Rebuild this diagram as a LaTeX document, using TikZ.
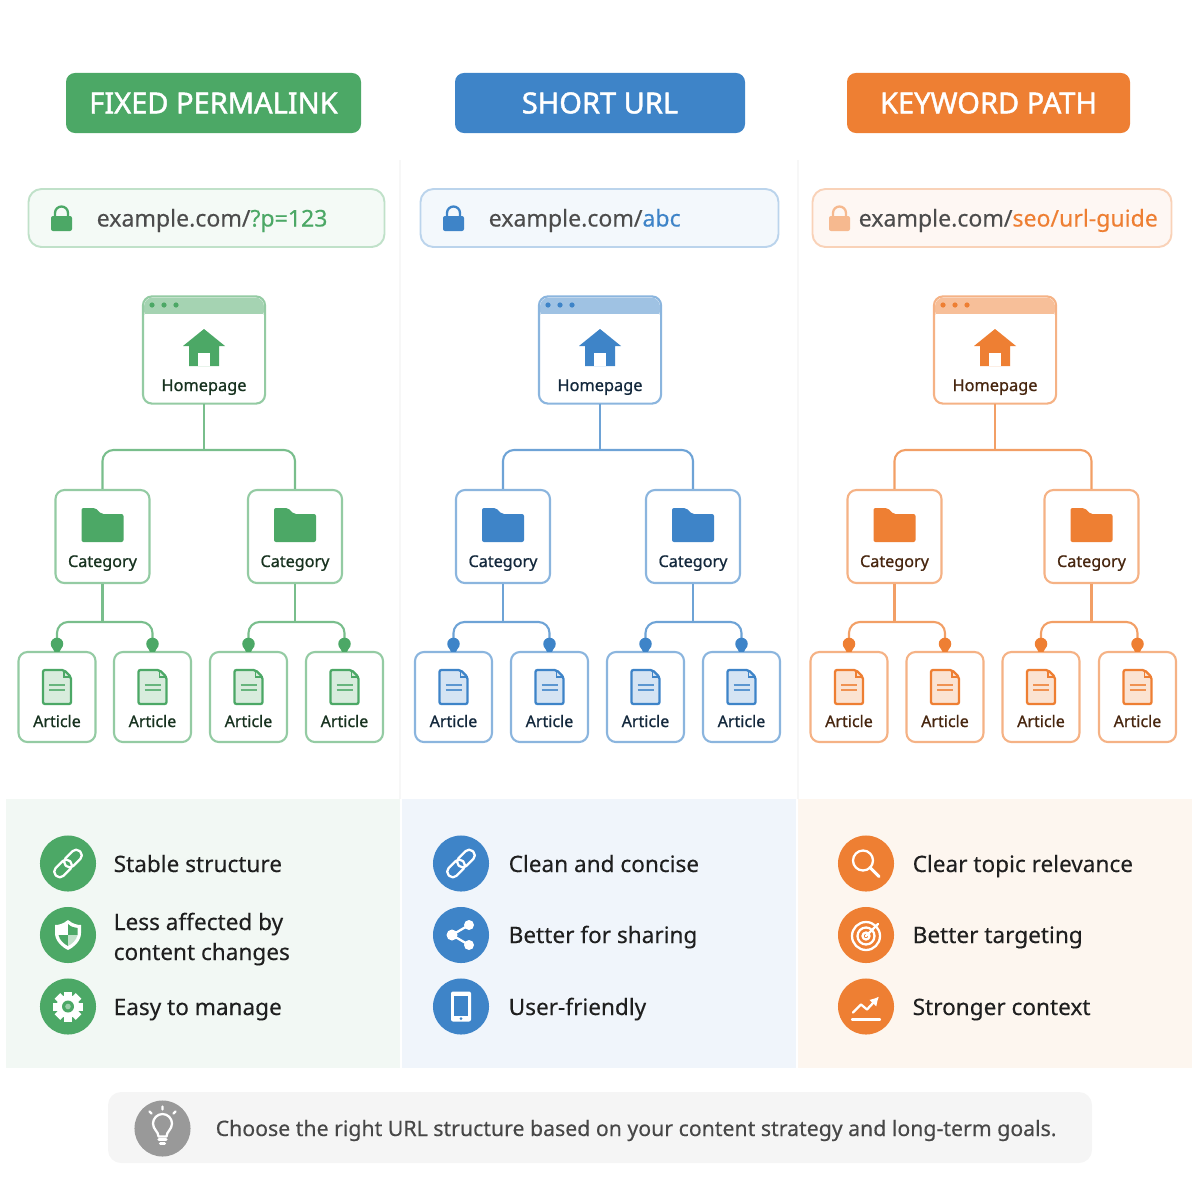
\documentclass[tikz,border=0pt]{standalone}
\usepackage{fontspec}
\setmainfont{Noto Sans}
\newfontfamily\heavyfont[FakeBold=1.5]{Noto Sans}
\newfontfamily\labelfont[FakeBold=0.9]{Noto Sans}
\newfontfamily\midfont[FakeBold=0.25]{Noto Sans}
\usetikzlibrary{positioning}
\usetikzlibrary{arrows.meta}
\definecolor{grn}{HTML}{4CA866}
\definecolor{blu}{HTML}{3E84C8}
\definecolor{org}{HTML}{EE7F33}
\definecolor{grnpale}{HTML}{F2F8F4}
\definecolor{blupale}{HTML}{F0F5FB}
\definecolor{orgpale}{HTML}{FDF6EF}
\tikzset{sizedbox/.style = {rectangle, inner sep = 0, minimum width = #1*0.01cm}}
\tikzset{headbox/.style = {sizedbox = #1, minimum height = 0.6cm, rounded corners = 0.09cm, fill = maincol, text = white, font = \fontsize{8.25}{9}\selectfont\heavyfont}}
\tikzset{urlbox/.style = {sizedbox = #1, minimum height = 0.58cm, rounded corners = 0.13cm, draw = maincol!35, fill = maincol!6, line width = 0.55pt}}
\tikzset{treebox/.style = {sizedbox = #1, draw = maincol!60, fill = white, rounded corners = 0.09cm, line width = 0.6pt}}
\tikzset{treeline/.style = {draw = maincol!75, line width = 0.6pt, rounded corners = 0.11cm}}
\tikzset{treedot/.style = {circle, fill = maincol, inner sep = 0, minimum size = 0.125cm}}
\tikzset{boxtext/.style = {anchor = base, text = maincol!30!black, inner sep = 0, font = \fontsize{#1}{9}\selectfont\labelfont}}
\tikzset{urltext/.style = {anchor = base west, inner sep = 0, font = \fontsize{6.56}{9}\selectfont\midfont}}
\tikzset{bullet/.style = {anchor = base west, inner sep = 0, text = black!88, font = \fontsize{6.42}{8.6}\selectfont\midfont}}
\tikzset{round/.style = {circle, fill = maincol, inner sep = 0, minimum size = 0.56cm}}
\tikzset{whiteline/.style = {draw = white, line width = 0.65pt, line cap = round, line join = round}}
% small pictures, drawn round (0,0)
\tikzset{lock/.pic = {
    \fill[maincol!#1, rounded corners = 0.02cm] (-10.5,-2) rectangle (10.5,13);
    \draw[maincol!#1, line width = 0.65pt] (-6.5,-2) -- (-6.5,-5) arc (180:360:6.5) -- (6.5,-2);
  }}
\tikzset{house/.pic = {
    \fill[maincol, line join = round] (0,-19) -- (21,-2) -- (15,-2) -- (15,18) -- (-15,18) -- (-15,-2) -- (-21,-2) -- cycle;
    \fill[white] (-6,5) rectangle (6,18);
  }}
\tikzset{folder/.pic = {
    \fill[maincol, rounded corners = 0.02cm] (-21,-17) -- (-7,-17) -- (-1,-11) -- (21,-11) -- (21,17) -- (-21,17) -- cycle;
  }}
\tikzset{page/.pic = {
    \draw[maincol, fill = maincol!22, line width = 0.65pt, rounded corners = 0.02cm] (-14,-17) -- (7,-17) -- (14,-10) -- (14,17) -- (-14,17) -- cycle;
    \draw[maincol, line width = 0.4pt] (7,-17) -- (7,-10) -- (14,-10);
    \draw[maincol!85, line width = 0.5pt] (-8,-2) -- (8,-2) (-8,3) -- (8,3);
  }}
\tikzset{dotfoot/.pic = {
    \fill[maincol] (-5,-4) -- (5,-4) -- (2.5,1) -- (-2.5,1) -- cycle;
  }}
\tikzset{link/.pic = {
    \begin{scope}[rotate = 45]
      \draw[whiteline, rounded corners = 0.05cm] (-17,-5.5) rectangle (3,5.5);
      \draw[whiteline, rounded corners = 0.05cm] (-3,-5.5) rectangle (17,5.5);
    \end{scope}
  }}
\tikzset{shield/.pic = {
    \fill[white] (0,-15) .. controls (5,-11) and (9,-10) .. (13,-10) -- (13,-2) .. controls (13,6) and (6,12) .. (0,15) .. controls (-6,12) and (-13,6) .. (-13,-2) -- (-13,-10) .. controls (-9,-10) and (-5,-11) .. cycle;
    \fill[maincol] (0,-11) .. controls (3,-8) and (6,-7.5) .. (9.5,-7) -- (9.5,0) -- (0,0) -- cycle;
    \fill[maincol] (0,11) .. controls (-4,9) and (-8.5,5) .. (-9.5,0) -- (0,0) -- cycle;
    \fill[maincol!35] (0,11) .. controls (4,9) and (8.5,5) .. (9.5,0) -- (0,0) -- cycle;
  }}
\tikzset{gear/.pic = {
    \foreach \ang in {0,45,...,315}
      \fill[white, rotate = \ang] (-4,-15) rectangle (4,0);
    \fill[white] (0,0) circle (11.5);
    \fill[maincol] (0,0) circle (6);
    \fill[maincol!55] (0,0) circle (2.8);
  }}
\tikzset{share/.pic = {
    \draw[whiteline] (8,-10) -- (-9,0) -- (8,10);
    \fill[white] (8,-10) circle (5) (8,10) circle (5) (-9,0) circle (5.5);
  }}
\tikzset{phone/.pic = {
    \fill[white, rounded corners = 0.02cm] (-10,-15) rectangle (10,15);
    \fill[maincol] (-7,-11) rectangle (7,9);
    \fill[maincol] (0,12) circle (1.5);
  }}
\tikzset{lens/.pic = {
    \draw[whiteline] (-3,-3) circle (10);
    \draw[whiteline, line width = 0.85pt] (4,4) -- (13,13);
  }}
\tikzset{target/.pic = {
    \draw[whiteline] (0,1) circle (14);
    \draw[whiteline] (0,1) circle (8.5);
    \draw[whiteline] (0,1) circle (3.5);
    \draw[whiteline] (0,1) -- (12,-11);
  }}
\tikzset{chart/.pic = {
    \draw[whiteline] (-14,13) -- (14,13);
    \draw[whiteline, -{Latex[length = 0.09cm, width = 0.1cm]}] (-13,6) -- (-5,-2) -- (1,3) -- (13,-10);
  }}
\tikzset{bulb/.pic = {
    \draw[whiteline] (-4,8) .. controls (-4,3) and (-9.5,1) .. (-9.5,-5) arc (180:360:9.5) .. controls (9.5,1) and (4,3) .. (4,8) -- cycle;
    \draw[whiteline, line width = 0.9pt] (-3.5,11) -- (3.5,11) (-2,15) -- (2,15);
    \draw[whiteline] (0,-19) -- (0,-22) (-11,-15) -- (-13,-17) (11,-15) -- (13,-17);
  }}

\begin{document}
\begin{tikzpicture}[x=0.01cm, y=-0.01cm]
    \useasboundingbox (0,0) rectangle (1200,1200);

    % Draw panels behind the columns
    \draw[black!3, line width = 0.4pt] (400,160) -- (400,799) (798,160) -- (798,799);
    \fill[grnpale] (6,799) rectangle (400,1068);
    \fill[blupale] (402,799) rectangle (796,1068);
    \fill[orgpale] (798,799) rectangle (1192,1068);

    % Draw title and address bar
    \foreach \pre/\col/\hx/\hw/\title/\ux/\uw/\lx/\tx/\tail/\lockshade in {
        g/grn/213.5/295/{FIXED PERMALINK}/206.5/356/61.5/96/{?p=123}/100,
        b/blu/600/290/{SHORT URL}/599.5/358/453.5/488/{abc}/100,
        o/org/988.5/283/{KEYWORD PATH}/992/359/839.5/858/{seo/url-guide}/55} {
      \colorlet{maincol}{\col}
      \node[headbox = \hw] (\pre-head) at (\hx,103) {\title};
      \node[urlbox = \uw] (\pre-url) at (\ux,218) {};
      \pic at (\lx,218) {lock = \lockshade};
      \node[urltext] (\pre-urltext) at (\tx,226.5) {\textcolor{black!70}{example.com/}\textcolor{maincol}{\tail}};
    }

    % Draw the trees
    \foreach \pre/\col/\hx/\ca/\cb/\aa/\ab/\ac/\ad in {
        g/grn/204/102.5/295/57/152.5/248.5/344.5,
        b/blu/600/503/693/453.5/549.5/645.5/741.5,
        o/org/995/894.5/1091.5/849/945/1041/1137.5} {
      \colorlet{maincol}{\col}
      \node[treebox = 120, minimum height = 1.05cm, draw = none] (\pre-home) at (\hx,350) {};
      \fill[maincol!50, rounded corners = 0.09cm] (\hx-60,297.5) -- (\hx+60,297.5) -- (\hx+60,320) -- (\hx-60,320) -- cycle;
      \fill[white] (\hx-59,314) rectangle (\hx+59,326);
      \draw[maincol!60, line width = 0.6pt, rounded corners = 0.09cm] (\pre-home.south west) rectangle (\pre-home.north east);
      \foreach \dx in {-52,-40,-28}
        \fill[maincol] (\hx+\dx,305) circle (2.6);
      \pic at (\hx,348) {house};
      \node[boxtext = 4.65] (\pre-hometext) at (\hx,391) {Homepage};
      \coordinate (\pre-bus) at (\hx,450);
      \draw[treeline] (\pre-home.south) -- (\pre-bus);
      \foreach \n/\cx/\ax/\bx in {1/\ca/\aa/\ab, 2/\cb/\ac/\ad} {
        \node[treebox = 94, minimum height = 0.93cm] (\pre-cat\n) at (\cx,536.5) {};
        \pic at (\cx,525) {folder};
        \node[boxtext = 4.6] (\pre-cattext\n) at (\cx,567) {Category};
        \coordinate (\pre-bus\n) at (\cx,622);
        \node[treebox = 77, minimum height = 0.9cm] (\pre-art\n a) at (\ax,697) {};
        \node[treebox = 77, minimum height = 0.9cm] (\pre-art\n b) at (\bx,697) {};
        \draw[treeline] (\pre-cat\n.south) -- (\pre-bus\n);
        \draw[treeline] (\pre-art\n a.north) |- (\pre-bus\n) -| (\pre-art\n b.north);
        \foreach \y in {a,b} {
          \node[treedot] (\pre-dot\n\y) at (\pre-art\n\y.north) [yshift = 0.07cm] {};
          \pic at (\pre-dot\n\y.south) {dotfoot};
          \pic at (\pre-art\n\y.center) [yshift = 0.1cm] {page};
          \node[boxtext = 4.55] (\pre-arttext\n\y) at (\pre-art\n\y.center) [yshift = -0.3cm] {Article};
        }
      }
      \draw[treeline] (\pre-cat1.north) |- (\pre-bus) -| (\pre-cat2.north);
    }

    % Draw the lists under the trees
    \foreach \pre/\col/\rx/\tx/\ia/\ta/\ib/\tb/\tbb/\ic/\tc in {
        g/grn/68/113/link/{Stable structure}/shield/{Less affected by}/{content changes}/gear/{Easy to manage},
        b/blu/461/508/link/{Clean and concise}/share/{}/{Better for sharing}/phone/{User-friendly},
        o/org/866/912/lens/{Clear topic relevance}/target/{}/{Better targeting}/chart/{Stronger context}} {
      \colorlet{maincol}{\col}
      \node[round] (\pre-rounda) at (\rx,863.5) {};
      \node[round] (\pre-roundb) at (\rx,935) {};
      \node[round] (\pre-roundc) at (\rx,1006.5) {};
      \pic at (\pre-rounda.center) {\ia};
      \pic at (\pre-roundb.center) {\ib};
      \pic at (\pre-roundc.center) {\ic};
      \node[bullet] (\pre-linea) at (\tx,872) {\ta};
      \ifx\tb\empty
        \node[bullet] (\pre-lineb) at (\tx,943) {\tbb};
      \else
        \node[bullet] (\pre-lineb) at (\tx,930) {\tb};
        \node[bullet] (\pre-linebb) at (\tx,960) {\tbb};
      \fi
      \node[bullet] (\pre-linec) at (\tx,1015) {\tc};
    }

    % Draw the closing note
    \colorlet{maincol}{black!40}
    \fill[black!4, rounded corners = 0.13cm] (108,1092) rectangle (1092,1163);
    \node[round] (noteround) at (162.5,1128.5) {};
    \pic at (noteround.center) {bulb};
    \node[urltext, text = black!72, font = \fontsize{6.05}{8}\selectfont\midfont] (notetext) at (215,1136) {Choose the right URL structure based on your content strategy and long-term goals.};
  \end{tikzpicture}
\end{document}
